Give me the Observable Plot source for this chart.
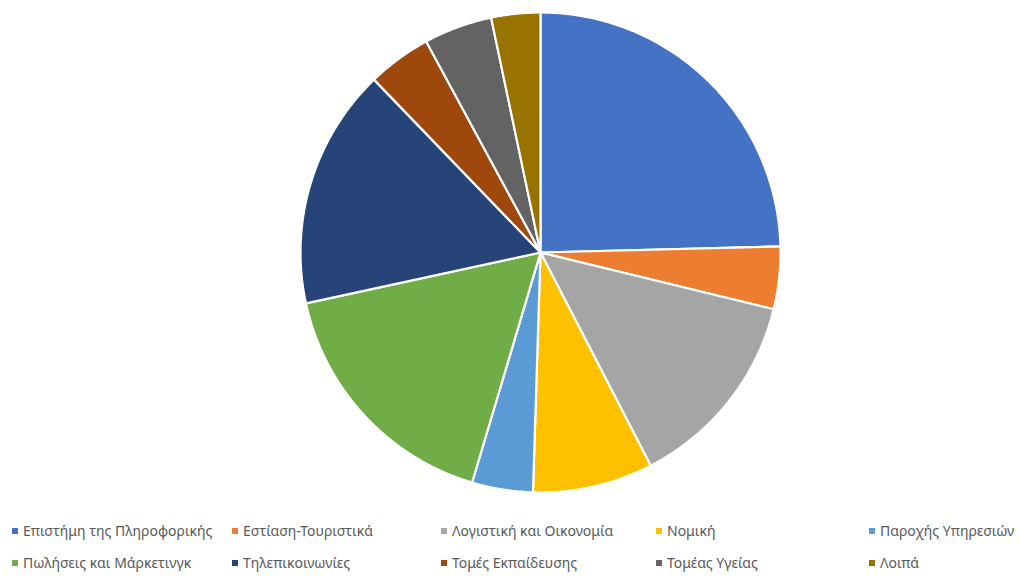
<!DOCTYPE html>
<html>
<head>
<meta charset="utf-8">
<script src="https://cdn.jsdelivr.net/npm/d3@7"></script>
<script src="https://cdn.jsdelivr.net/npm/@observablehq/plot@0.6"></script>
<style>
  html, body { margin: 0; padding: 0; background: #fff; }
  #chart { width: 1019px; }
  #legend { position: relative; width: 1019px; height: 74px; font-family: "Noto Sans", "Open Sans", sans-serif; font-size: 14px; color: #595959; }
  .item { position: absolute; white-space: nowrap; display: flex; align-items: center; }
  .sw { width: 6px; height: 6px; margin-right: 5px; display: inline-block; }
</style>
</head>
<body>
<div id="chart"></div>
<div id="legend"></div>
<script>
const categories = [
  "Επιστήμη της Πληροφορικής",
  "Εστίαση-Τουριστικά",
  "Λογιστική και Οικονομία",
  "Νομική",
  "Παροχής Υπηρεσιών",
  "Πωλήσεις και Μάρκετινγκ",
  "Τηλεπικοινωνίες",
  "Τομές Εκπαίδευσης",
  "Τομέας Υγείας",
  "Λοιπά"
];
const values = [24.6, 4.2, 13.6, 8.1, 4.1, 17.0, 16.2, 4.3, 4.6, 3.3];
const colors = ["#4472C4", "#ED7D31", "#A5A5A5", "#FFC000", "#5B9BD5", "#70AD47", "#264478", "#9E480E", "#636363", "#997300"];

const data = categories.map((c, i) => ({category: c, value: values[i]}));
const arcs = d3.pie().sort(null).value(d => d.value)(data);

// Build wedge outlines in unit (data) coordinates: angle clockwise from top
const pts = [];
arcs.forEach(a => {
  const key = a.data.category;
  pts.push({key, x: 0, y: 0});
  const n = Math.max(2, Math.ceil((a.endAngle - a.startAngle) / 0.01));
  for (let k = 0; k <= n; k++) {
    const t = a.startAngle + (a.endAngle - a.startAngle) * k / n;
    pts.push({key, x: Math.sin(t), y: Math.cos(t)});
  }
});

const W = 1019, H = 505;
const cx = 540, cy = 252, R = 240;
const chart = Plot.plot({
  width: W,
  height: H,
  marginLeft: cx - R,
  marginRight: W - (cx + R),
  marginTop: cy - R,
  marginBottom: H - (cy + R),
  x: {domain: [-1, 1], axis: null},
  y: {domain: [-1, 1], axis: null},
  color: {domain: categories, range: colors},
  marks: [
    Plot.line(pts, {x: "x", y: "y", z: "key", fill: "key", stroke: "white", strokeWidth: 2.2, strokeLinejoin: "round", curve: "linear-closed"})
  ]
});
document.getElementById("chart").appendChild(chart);

const legend = document.getElementById("legend");
const colX = [12, 232, 441, 656, 869];
const rowY = [26, 58];
categories.forEach((c, i) => {
  const el = document.createElement("div");
  el.className = "item";
  el.style.left = colX[i % 5] + "px";
  el.style.top = (rowY[Math.floor(i / 5)] - 10) + "px";
  const sw = document.createElement("span");
  sw.className = "sw";
  sw.style.background = colors[i];
  el.appendChild(sw);
  el.appendChild(document.createTextNode(c));
  legend.appendChild(el);
});
</script>
</body>
</html>
